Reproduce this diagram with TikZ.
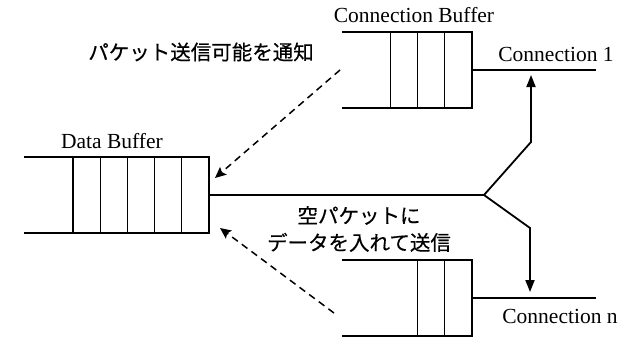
\documentclass[tikz,border=0pt]{standalone}
\usepackage{fontspec}
\setmainfont{Liberation Serif}
\newfontfamily\jpfont[FakeBold=0.4]{Noto Sans CJK JP}
\usetikzlibrary{arrows.meta,calc}

\begin{document}
\begin{tikzpicture}[x=1pt, y=-1pt,
  every node/.style={inner sep=0pt, outer sep=0pt},
  lbl/.style={font=\fontsize{21.5}{24}\selectfont, anchor=base},
  jp/.style={font=\jpfont\fontsize{20.5}{27}\selectfont, align=center},
  queue/.style={line width=1.1pt},
  link/.style={line width=1.8pt},
  tip/.style={-{Triangle[length=12pt, width=9pt]}},
  notify/.style={line width=1.5pt, dash pattern=on 7pt off 5pt,
                 -{Stealth[length=11pt, width=10pt, inset=2pt]}},
  buf/.style={minimum height=76pt, minimum width=#1}
]
  \useasboundingbox (0,0) rectangle (626,337);

  % --- Buffers (open on the left) ---
  \node[buf=185pt] (db)  at (116.5,195) {};
  \node[buf=130pt] (cb1) at (407,70)    {};
  \node[buf=130pt] (cbn) at (407,298)   {};

  \foreach \b in {db,cb1,cbn}
    \draw[queue] (\b.north west) -- (\b.north east) -- (\b.south east) -- (\b.south west);
  \foreach \i in {1,...,5}
    \draw[queue] ([xshift=-\i*27.2pt]db.north east) -- ([xshift=-\i*27.2pt]db.south east);
  \foreach \i in {1,...,3}
    \draw[queue] ([xshift=-\i*27.3pt]cb1.north east) -- ([xshift=-\i*27.3pt]cb1.south east);
  \foreach \i in {1,2}
    \draw[queue] ([xshift=-\i*27.3pt]cbn.north east) -- ([xshift=-\i*27.3pt]cbn.south east);

  % --- Buffer labels ---
  \node[lbl] (dblbl)  at (112,148) {Data Buffer};
  \node[lbl] (cblbl)  at (414,23)  {Connection Buffer};
  \node[lbl] (c1lbl)  at (556,62)  {Connection 1};
  \node[lbl] (cnlbl)  at (560,323) {Connection n};

  % --- Connection lines ---
  \coordinate (c1)   at (596,70);
  \coordinate (cn)   at (596,298);
  \draw[queue] (cb1.east) -- (c1);
  \draw[queue] (cbn.east) -- (cn);

  % --- Fork from the data buffer to the connections ---
  \coordinate (fork) at (484,195);
  \coordinate (up)   at (531,142);
  \coordinate (dn)   at (530,228);
  \coordinate (tip1) at (531,75);
  \coordinate (tipn) at (530,292);
  \draw[link] (db.east) -- (fork);
  \draw[link, tip] (fork) -- (up) -- (tip1);
  \draw[link, tip] (fork) -- (dn) -- (tipn);

  % --- Notifications (dashed) ---
  \coordinate (n1s) at (340,70);
  \coordinate (n1e) at (215,178);
  \coordinate (nns) at (334,313);
  \coordinate (nne) at (220,228);
  \draw[notify] (n1s) -- (n1e);
  \draw[notify] (nns) -- (nne);

  % --- Japanese captions ---
  \node[jp] (notice) at (201,52)  {パケット送信可能を通知};
  \node[jp] (send)   at (359,229) {空パケットに\\データを入れて送信};

\end{tikzpicture}
\end{document}
